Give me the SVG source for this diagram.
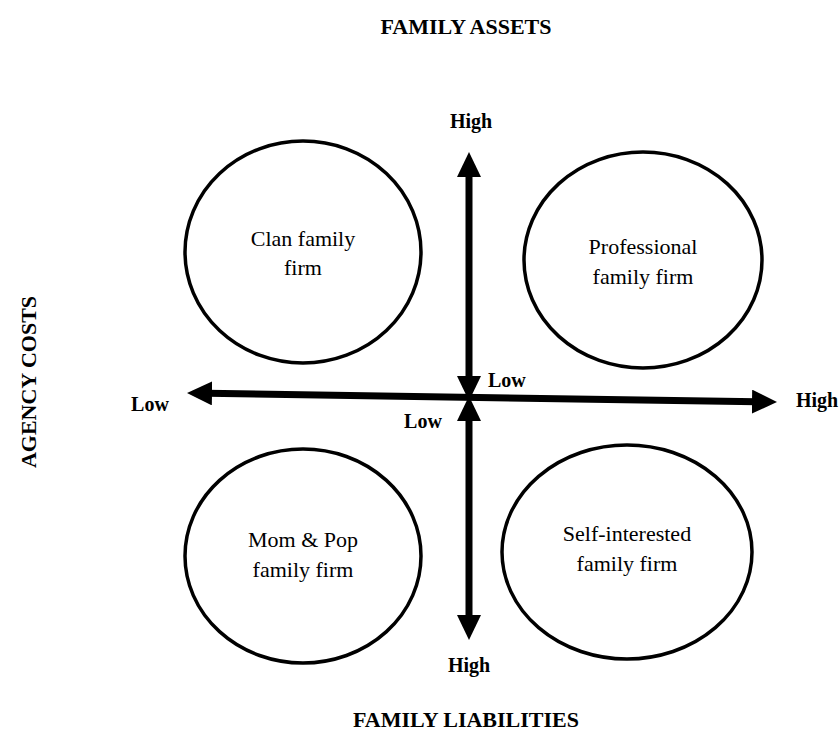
<svg xmlns="http://www.w3.org/2000/svg" width="839" height="735" viewBox="0 0 839 735">
<style>
.t{font-family:"Liberation Serif","Times New Roman",serif;font-weight:bold;font-size:22px;fill:#000;text-anchor:middle}
.b{font-family:"Liberation Serif","Times New Roman",serif;font-weight:bold;font-size:20px;fill:#000;text-anchor:middle}
.n{font-family:"Liberation Serif","Times New Roman",serif;font-size:22px;fill:#000;text-anchor:middle}
.c{fill:#fff;stroke:#000;stroke-width:3.5}
.a{stroke:#000;stroke-width:7;fill:none}
</style>
<defs>
<marker id="ah" viewBox="0 0 25 24" refX="5" refY="12" markerWidth="25" markerHeight="24" orient="auto-start-reverse" markerUnits="userSpaceOnUse">
<path d="M0,0 L25,12 L0,24 z" fill="#000"/>
</marker>
</defs>
<rect width="839" height="735" fill="#fff"/>
<text class="t" x="466" y="34">FAMILY ASSETS</text>
<text class="t" x="466" y="727">FAMILY LIABILITIES</text>
<text class="t" transform="translate(36,382) rotate(-90)">AGENCY COSTS</text>
<g id="clan"><ellipse class="c" cx="303" cy="252" rx="118" ry="111"/><text class="n" x="303" y="246">Clan family</text><text class="n" x="303" y="275">firm</text></g>
<g id="professional"><ellipse class="c" cx="643" cy="260" rx="119" ry="108"/><text class="n" x="643" y="254">Professional</text><text class="n" x="643" y="284">family firm</text></g>
<g id="mompop"><ellipse class="c" cx="303" cy="556" rx="118" ry="107"/><text class="n" x="303" y="547">Mom &amp; Pop</text><text class="n" x="303" y="577">family firm</text></g>
<g id="selfinterested"><ellipse class="c" cx="627" cy="552" rx="125" ry="107"/><text class="n" x="627" y="541">Self-interested</text><text class="n" x="627" y="571">family firm</text></g>
<g id="connectors">
<line class="a" x1="469" y1="172" x2="469" y2="381" marker-start="url(#ah)" marker-end="url(#ah)"/>
<line class="a" x1="207" y1="393.3" x2="757" y2="401.7" marker-start="url(#ah)" marker-end="url(#ah)"/>
<line class="a" x1="469" y1="416" x2="469" y2="620" marker-start="url(#ah)" marker-end="url(#ah)"/>
</g>
<text class="b" x="471" y="128">High</text>
<text class="b" x="488" y="387" style="text-anchor:start">Low</text>
<text class="b" x="150" y="411">Low</text>
<text class="b" x="796" y="407" style="text-anchor:start">High</text>
<text class="b" x="423" y="428">Low</text>
<text class="b" x="469" y="672">High</text>
</svg>
